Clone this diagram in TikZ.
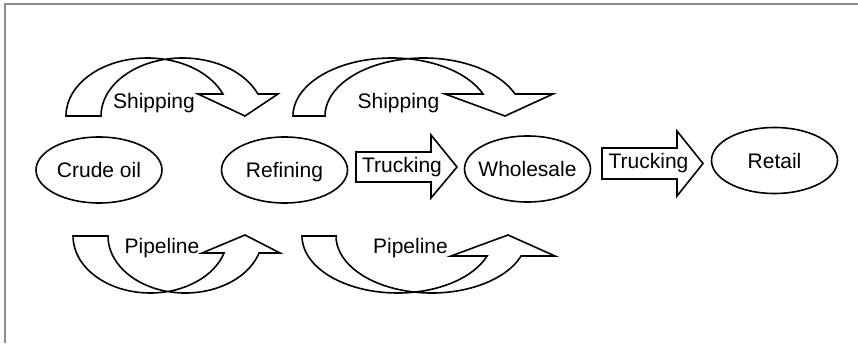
\documentclass[tikz,border=0pt]{standalone}
\usepackage{fontspec}
\setmainfont{Liberation Sans}
\usetikzlibrary{shapes.geometric}
\definecolor{framegray}{RGB}{140,140,140}
\tikzset{%
	every node/.style={
		font=\fontsize{21pt}{25pt}\selectfont,
		text height=15pt,
		text depth=0pt
	},
	stage/.style={
		ellipse,
		draw,
		line width=1.6pt,
		minimum width=126pt,
		minimum height=66pt,
		inner xsep=-12pt,
		inner ysep=0pt
	},
	block-arrow/.style={ draw, line width=1.6pt, line join=miter },
	flow-text/.style={ inner sep=0pt },
	frame/.style={ draw=framegray, line width=2pt },
}

\begin{document}
\begin{tikzpicture}[x=1pt, y=1pt]
\useasboundingbox (0,0) rectangle (858,343);
% frame
\draw[frame] (4,339) -- (858,339) (5,339) -- (5,0);

% stages
\node[stage] (crude) at (99,173) {Crude oil};
\node[stage] (refining) at (284.5,173) {Refining};
\node[stage] (wholesale) at (527.5,174) {Wholesale};
\node[stage] (retail) at (774.5,182.5) {Retail};

% shipping arrows (over the top)
\foreach \L/\w/\rx/\n/\t/\c [count=\i] in {66/35/81.5/198/245/278, 293/32/98.7/445/505/553}
	\draw[block-arrow] (\L,227) arc[start angle=180, end angle=22.3, x radius=\rx pt, y radius=58pt]
		-- (\n,249) -- (\t,227) -- (\c,249)
		-- ([shift={(\L+\w+\rx,227)}] 22.3:\rx pt and 58pt)
		arc[start angle=22.3, end angle=180, x radius=\rx pt, y radius=58pt] -- cycle;

% pipeline arrows (under the bottom)
\foreach \L/\w/\rx/\a/\hy/\n/\t/\c [count=\i] in {73/35/77.3/342.65/90/202/245/280, 302/34/95.6/339.5/87/451/508/555}
	\draw[block-arrow] (\L,107) arc[start angle=180, end angle=\a, x radius=\rx pt, y radius=57pt]
		-- (\n,\hy) -- (\t,108) -- (\c,\hy)
		-- ([shift={(\L+\w+\rx,107)}] \a:\rx pt and 57pt)
		arc[start angle=\a, end angle=180, x radius=\rx pt, y radius=57pt] -- cycle;

% trucking arrows
\foreach \L/\b/\tip/\lo/\hi/\hlo/\hhi in {356/431/457/161/191/145/208, 602/677/703/164/195/147/212}
	\draw[block-arrow] (\L,\lo) -- (\b,\lo) -- (\b,\hlo) -- (\tip,{(\lo+\hi)/2})
		-- (\b,\hhi) -- (\b,\hi) -- (\L,\hi) -- cycle;

% flow labels
\node[flow-text] (ship-1) at (154,241.5) {Shipping};
\node[flow-text] (ship-2) at (398.5,241.5) {Shipping};
\node[flow-text] (pipe-1) at (162,97) {Pipeline};
\node[flow-text] (pipe-2) at (410.5,97) {Pipeline};
\node[flow-text] (truck-1) at (402,178) {Trucking};
\node[flow-text] (truck-2) at (648.5,181.7) {Trucking};

\end{tikzpicture}
\end{document}
